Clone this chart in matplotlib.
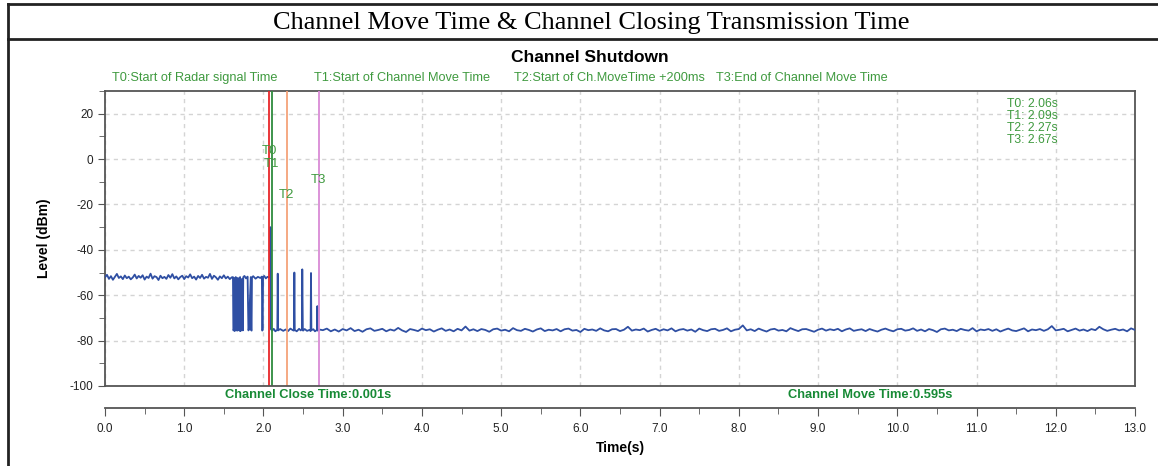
## Channel shutdown plot: level vs time with T0..T3 markers
import numpy as np
import matplotlib.pyplot as plt
from matplotlib.lines import Line2D
from matplotlib.ticker import MultipleLocator
from matplotlib import font_manager

# pick a narrow font if it is there
names = {f.name for f in font_manager.fontManager.ttflist}
narrow = 'Liberation Sans Narrow' if 'Liberation Sans Narrow' in names else 'Liberation Sans'

plt.rc('font', family='Liberation Sans')

# ---- data ----
# noisy level before the radar signal (0.0 .. 1.60 s), dBm
pre_start, pre_end = 0.0, 1.60
pre_level = [-52.1, -51.0, -52.8, -51.6, -53.2, -51.9, -50.6, -52.4, -51.7, -52.9,
             -51.3, -52.5, -51.8, -53.0, -52.2, -50.9, -52.6, -51.5, -52.3, -51.2,
             -53.1, -51.8, -52.4, -50.5, -52.7, -51.6, -52.0, -53.3, -51.4, -52.5,
             -51.9, -52.8, -51.1, -52.3, -50.7, -52.6, -51.7, -53.0, -52.0, -51.4,
             -52.9, -51.6, -52.2, -50.8, -52.5, -51.8, -53.1, -51.5, -52.4, -51.0,
             -52.7, -51.9, -52.3, -50.6, -52.8, -51.4, -52.1, -53.2, -51.7, -52.5,
             -51.2, -52.6, -51.8, -52.9, -52.1]

# event region, explicit points (time s, level dBm)
event_t = [1.615, 1.62, 1.63, 1.632, 1.636, 1.64, 1.65, 1.655, 1.66, 1.663, 1.67, 1.68,
           1.685, 1.69, 1.70, 1.705, 1.71, 1.725, 1.73, 1.74, 1.745, 1.76, 1.78, 1.80,
           1.81, 1.815, 1.84, 1.845, 1.85, 1.855, 1.87, 1.90, 1.93, 1.96, 1.98, 1.985,
           1.99, 1.995, 2.01, 2.03, 2.05, 2.07, 2.085, 2.087, 2.092, 2.094, 2.11, 2.13,
           2.15, 2.175, 2.18, 2.185, 2.21, 2.25, 2.28, 2.31, 2.34, 2.37, 2.385, 2.39,
           2.395, 2.42, 2.45, 2.47, 2.485, 2.49, 2.493, 2.497, 2.50, 2.52, 2.55, 2.58,
           2.595, 2.60, 2.605, 2.63, 2.65, 2.675, 2.68, 2.685, 2.70]
event_v = [-52.0, -75.5, -75.0, -52.5, -75.8, -75.0, -52.0, -75.5, -75.2, -52.3, -75.6, -75.0,
           -52.5, -75.4, -75.6, -52.0, -75.8, -75.1, -52.8, -75.5, -52.0, -51.5, -52.6, -51.8,
           -75.5, -75.2, -52.0, -75.3, -75.6, -52.2, -51.6, -52.7, -51.9, -52.4, -51.8, -75.6,
           -75.2, -52.0, -51.5, -52.6, -51.9, -52.1, -52.0, -30.0, -30.5, -75.0, -75.6, -74.8,
           -75.9, -75.2, -50.5, -75.5, -74.9, -75.7, -75.1, -75.8, -74.7, -75.4, -75.6, -50.0,
           -75.3, -75.9, -74.8, -75.5, -75.0, -48.6, -62.5, -75.2, -75.6, -74.9, -75.7, -75.3,
           -75.8, -50.2, -75.4, -75.0, -75.9, -75.3, -64.8, -75.6, -75.1]

# noisy level after channel moved (2.75 .. 13.0 s), dBm
post_start, post_end = 2.75, 13.0
post_level = [-75.4, -74.7, -75.9, -75.1, -76.0, -74.9, -75.5, -74.5, -75.8, -75.2,
              -76.1, -75.0, -74.6, -75.7, -75.3, -74.8, -75.9, -75.1, -75.6, -74.4,
              -75.5, -76.2, -74.9, -75.3, -75.8, -74.7, -75.4, -75.0, -76.0, -75.2,
              -74.6, -75.7, -75.1, -75.9, -74.8, -75.5, -73.8, -75.6, -75.0, -75.8,
              -74.9, -75.3, -76.1, -75.0, -74.7, -75.6, -75.2, -75.9, -74.5, -75.4,
              -75.7, -74.8, -75.3, -76.0, -75.1, -74.6, -75.8, -75.2, -75.5, -74.9,
              -75.9, -75.0, -74.7, -75.6, -75.3, -76.2, -74.8, -75.4, -75.1, -75.7,
              -74.6, -75.5, -75.9, -75.0, -74.9, -75.8, -75.2, -73.9, -75.6, -75.1,
              -75.4, -74.7, -76.0, -75.3, -74.8, -75.7, -75.0, -75.5, -74.6, -75.9,
              -75.2, -74.9, -75.6, -75.1, -76.1, -74.7, -75.4, -75.8, -75.0, -74.8,
              -75.7, -75.3, -74.6, -75.9, -75.2, -74.9, -73.3, -75.5, -75.0, -75.8,
              -74.7, -75.4, -76.0, -75.1, -74.8, -75.6, -75.3, -75.9, -74.5, -75.2,
              -75.8, -75.0, -74.9, -75.5, -76.1, -75.2, -74.7, -75.6, -75.0, -75.4,
              -74.8, -75.9, -75.1, -74.6, -75.7, -75.3, -75.0, -75.8, -74.9, -75.5,
              -76.0, -75.2, -74.7, -75.4, -75.9, -75.0, -74.8, -75.6, -75.3, -74.6,
              -75.7, -75.1, -75.9, -74.9, -75.4, -76.2, -75.0, -74.7, -75.5, -75.2,
              -75.8, -74.8, -75.3, -75.6, -74.5, -75.9, -75.1, -75.4, -74.9, -75.7,
              -75.0, -76.0, -75.3, -74.7, -75.5, -75.8, -75.2, -74.6, -75.9, -75.1,
              -75.4, -74.9, -75.7, -75.0, -73.6, -75.5, -75.2, -74.8, -75.9, -75.3,
              -74.7, -75.6, -75.1, -75.8, -74.9, -75.4, -73.9, -75.0, -75.7, -75.2,
              -74.8, -75.5, -75.1, -75.9, -74.6, -75.3]

# marker lines (where drawn) and their read-outs
marker_names = ['T0', 'T1', 'T2', 'T3']
marker_times = [2.074, 2.103, 2.295, 2.70]
marker_readout = ['2.06', '2.09', '2.27', '2.67']
marker_desc = ['T0:Start of Radar signal Time', 'T1:Start of Channel Move Time',
               'T2:Start of Ch.MoveTime +200ms', 'T3:End of Channel Move Time']
marker_colors = ['#e8262a', '#2e8b3e', '#f4a27a', '#d98ad6']
marker_label_y = [3.6, -2.2, -16, -9.3]

close_time = '0.001'
move_time = '0.595'

# ---- figure ----
W, H = 1158, 466
fig = plt.figure(figsize=(W/100, H/100), dpi=100)

def px(x, y):
    return x/W, 1 - y/H

# outer frame of the table-like picture
fig.add_artist(Line2D([8/W, 8/W], [0, 1 - 4/H], transform=fig.transFigure, color='#222222', lw=2))
fig.add_artist(Line2D([8/W, 1], [1 - 4/H, 1 - 4/H], transform=fig.transFigure, color='#222222', lw=2))
fig.add_artist(Line2D([8/W, 1], [1 - 39/H, 1 - 39/H], transform=fig.transFigure, color='#222222', lw=2))

fig.text(*px(591, 23), 'Channel Move Time & Channel Closing Transmission Time',
         family='Liberation Serif', fontsize=19, ha='center', va='center')
fig.text(*px(590, 57), 'Channel Shutdown', fontsize=12.5, weight='bold',
         ha='center', va='center')

legend_x = [112, 314, 514, 716]
for xx, s in zip(legend_x, marker_desc):
    fig.text(*px(xx, 78), s, family=narrow, fontsize=9.2, color='#3f9a3f', va='center')

ax = fig.add_axes([105/W, 1 - 386/H, 1030/W, 295/H])

t_pre = np.linspace(pre_start, pre_end, len(pre_level))
t_post = np.linspace(post_start, post_end, len(post_level))
t_all = np.concatenate([t_pre, event_t, t_post])
v_all = np.concatenate([pre_level, event_v, post_level])
ax.plot(t_all, v_all, color='#2f4fa3', lw=1.3, zorder=3)

for tm, c in zip(marker_times, marker_colors):
    ax.axvline(tm, color=c, lw=1.3, zorder=4)
for name, tm, ly in zip(marker_names, marker_times, marker_label_y):
    ax.text(tm, ly, name, family=narrow, fontsize=9.5, color='#3f9a3f', ha='center', va='center', zorder=5)

for i, (name, r) in enumerate(zip(marker_names, marker_readout)):
    ax.text(*px(1007, 104 + 12*i), f'{name}: {r}s', transform=fig.transFigure,
            family=narrow, fontsize=8.8, color='#3f9a3f', va='center')

ax.set_xlim(0, 13)
ax.set_ylim(-100, 30)
ax.xaxis.set_major_locator(MultipleLocator(1))
ax.xaxis.set_minor_locator(MultipleLocator(0.5))
ax.yaxis.set_major_locator(MultipleLocator(20))
ax.yaxis.set_minor_locator(MultipleLocator(10))
ax.xaxis.set_major_formatter(lambda v, p: f'{v:.1f}')
ax.yaxis.set_major_formatter(lambda v, p: f'{v:.0f}')
ax.grid(True, which='major', color='#d4d4d4', ls=(0, (3, 3)), lw=1)

frame = '#555555'
for s in ['top', 'right', 'left']:
    ax.spines[s].set_color(frame)
    ax.spines[s].set_linewidth(1.3)
ax.spines['bottom'].set_position(('outward', 16))
ax.spines['bottom'].set_color(frame)
ax.spines['bottom'].set_linewidth(1.3)
ax.plot([0, 1], [0, 0], transform=ax.transAxes, color=frame, lw=1.3, clip_on=False, zorder=6)

ax.tick_params(which='both', direction='out', colors=frame, labelcolor='#222222', labelsize=8.5)
ax.tick_params(axis='y', which='major', length=5)
ax.tick_params(axis='y', which='minor', length=4)
ax.tick_params(axis='x', which='major', length=6, pad=5)
ax.tick_params(axis='x', which='minor', length=4)

ax.set_xlabel('Time(s)', fontsize=10, weight='bold', labelpad=4)
ax.set_ylabel('Level (dBm)', fontsize=10, weight='bold', labelpad=13)

fig.text(*px(308, 395), f'Channel Close Time:{close_time}s', fontsize=9.3, weight='bold',
         color='#178a35', ha='center', va='center')
fig.text(*px(870, 395), f'Channel Move Time:{move_time}s', fontsize=9.3, weight='bold',
         color='#178a35', ha='center', va='center')

fig.savefig('out.png', dpi=100)
